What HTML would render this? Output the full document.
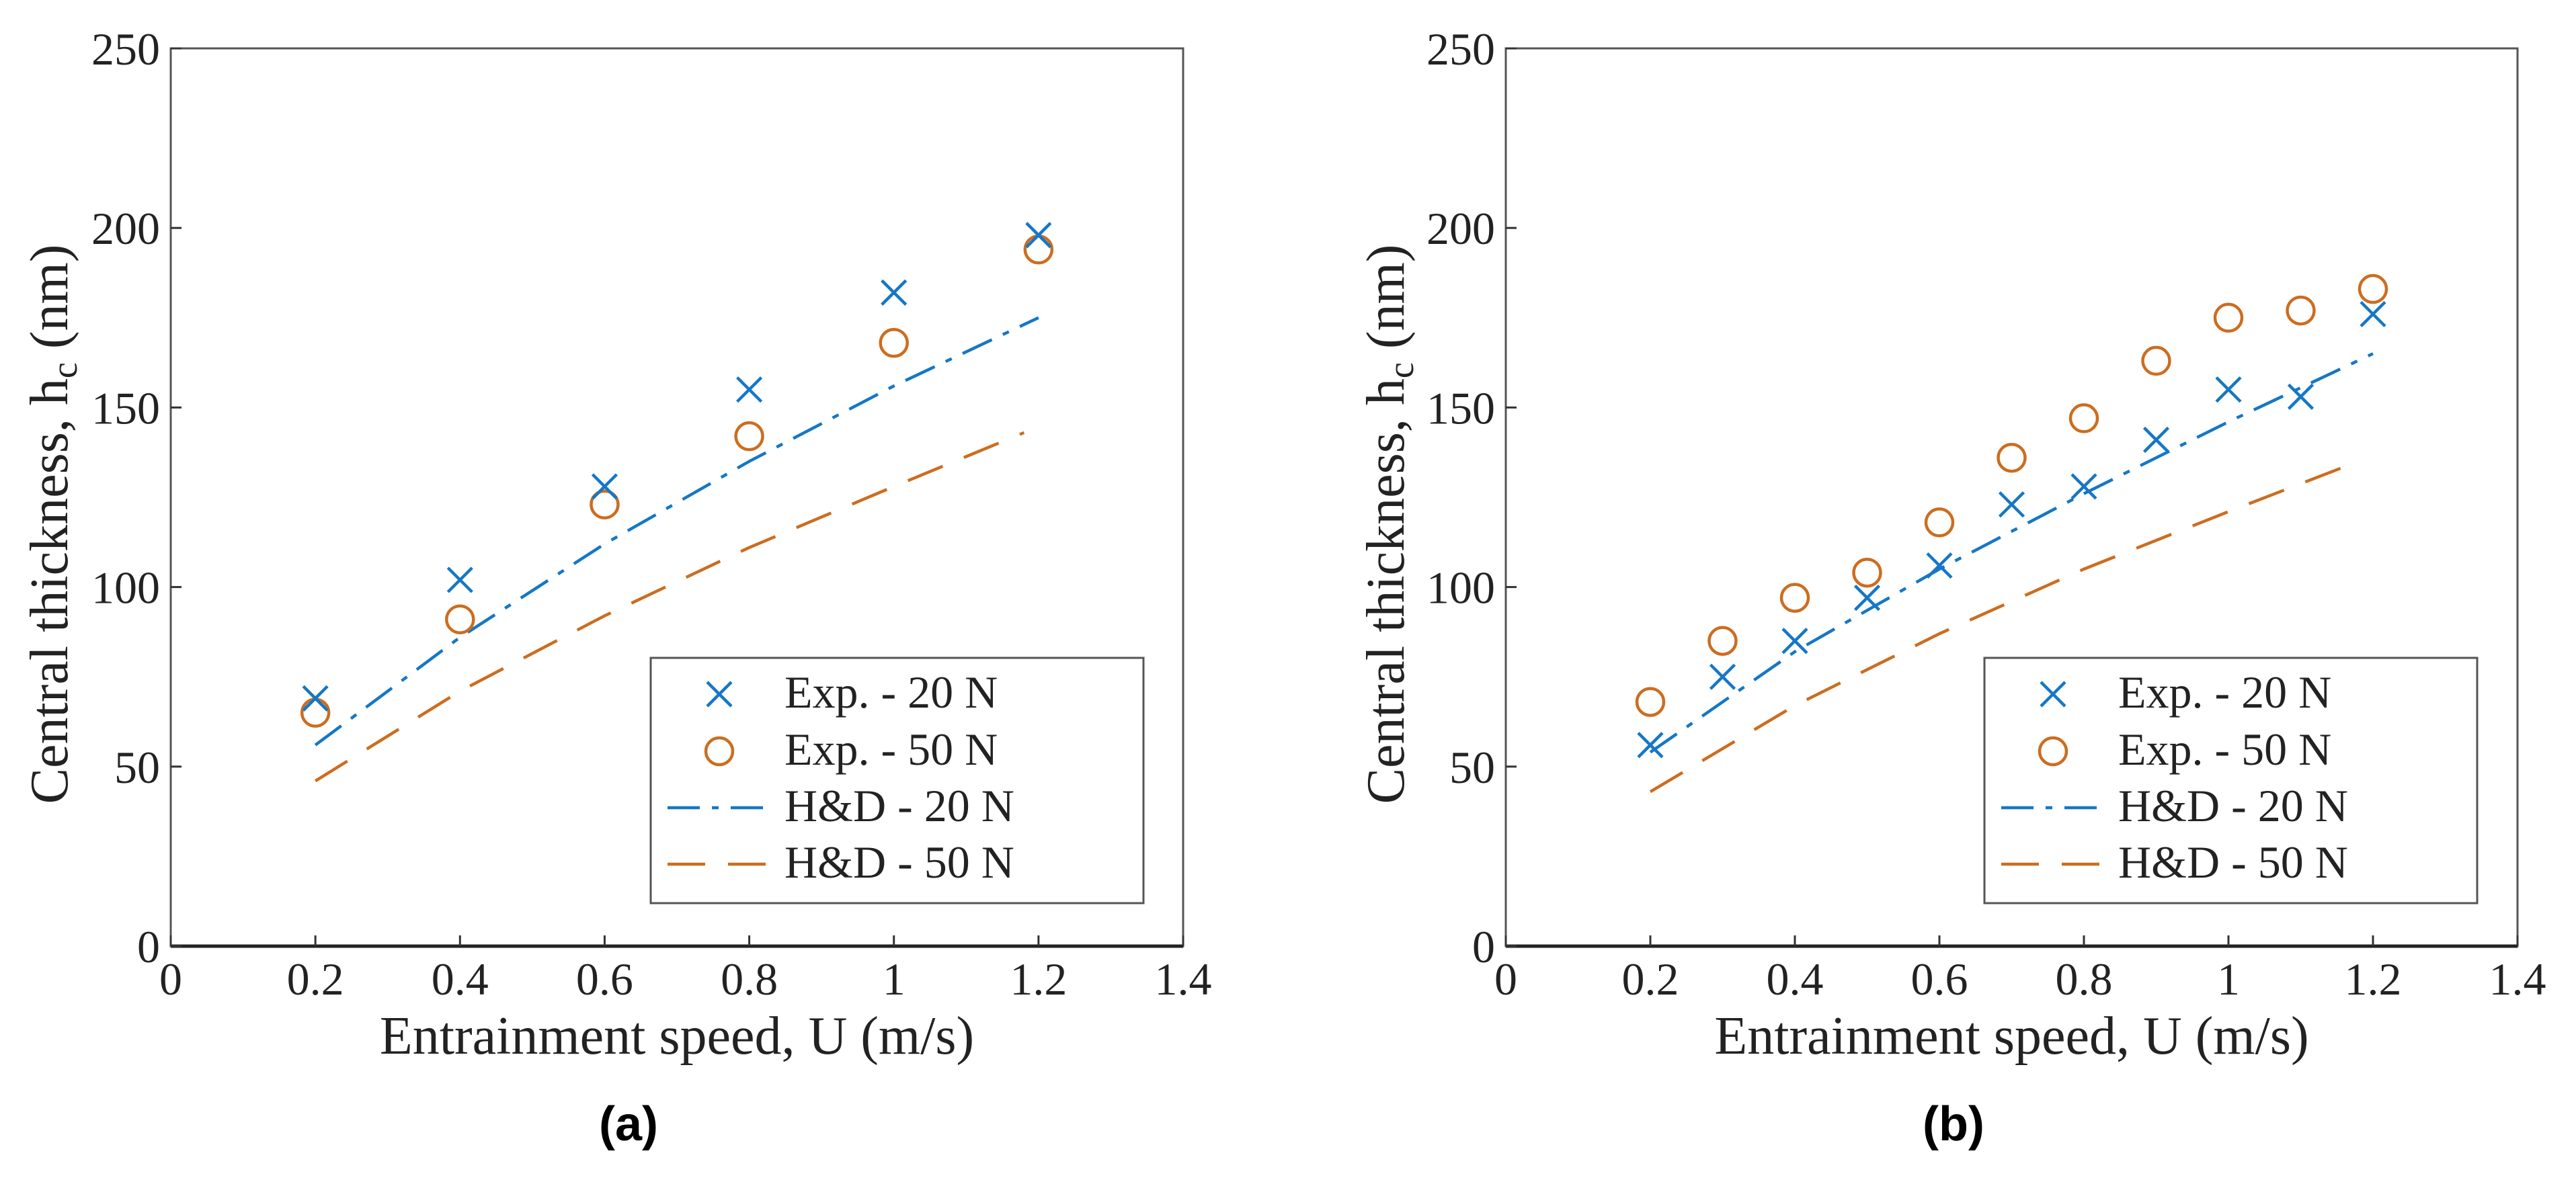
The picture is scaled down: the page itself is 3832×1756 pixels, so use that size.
<!DOCTYPE html>
<html><head><meta charset="utf-8">
<style>
html,body{margin:0;padding:0;background:#fff;}
svg{display:block;}
text{font-family:"Liberation Serif",serif;fill:#222;}
.tick{font-size:68px;}
.lab{font-size:80px;}
.leg{font-size:68px;}
.cap{font-family:"Liberation Sans",sans-serif;font-weight:bold;font-size:72px;fill:#000;}
</style></head>
<body>
<svg id="fig" width="3832" height="1756" viewBox="0 0 3832 1756" xmlns="http://www.w3.org/2000/svg"></svg>
<script>
// ---- data ----
const xTicks = [0, 0.2, 0.4, 0.6, 0.8, 1, 1.2, 1.4];
const xTickLabels = ["0", "0.2", "0.4", "0.6", "0.8", "1", "1.2", "1.4"];
const yTicks = [0, 50, 100, 150, 200, 250];
const yTickLabels = ["0", "50", "100", "150", "200", "250"];

const aSpeeds = [0.2, 0.4, 0.6, 0.8, 1.0, 1.2];
const aExp20 = [69, 102, 128, 155, 182, 198];
const aExp50 = [65, 91, 123, 142, 168, 194];
const aHdSpeeds20 = [0.2, 0.4, 0.6, 0.8, 1.0, 1.2];
const aHd20 = [56, 86, 112, 135, 156, 175];
const aHdSpeeds50 = [0.2, 0.4, 0.6, 0.8, 1.0, 1.18];
const aHd50 = [46, 71, 92, 111, 128, 143];

const bSpeeds = [0.2, 0.3, 0.4, 0.5, 0.6, 0.7, 0.8, 0.9, 1.0, 1.1, 1.2];
const bExp20 = [56, 75, 85, 97, 106, 123, 128, 141, 155, 153, 176];
const bExp50 = [68, 85, 97, 104, 118, 136, 147, 163, 175, 177, 183];
const bHdSpeeds20 = [0.2, 0.4, 0.6, 0.8, 1.0, 1.2];
const bHd20 = [54, 82, 105, 126, 146, 165];
const bHdSpeeds50 = [0.2, 0.4, 0.6, 0.8, 1.0, 1.18];
const bHd50 = [43, 67, 87, 105, 121, 135];

const legendLabels = ["Exp. - 20 N", "Exp. - 50 N", "H&D - 20 N", "H&D - 50 N"];

const BLUE = "#1577C6", ORANGE = "#CC6D20";
const NS = "http://www.w3.org/2000/svg";
const svg = document.getElementById("fig");

function mk(tag, attrs, parent) {
  const e = document.createElementNS(NS, tag);
  for (const k in attrs) e.setAttribute(k, attrs[k]);
  (parent || svg).appendChild(e);
  return e;
}

function panel(id, L, R, T, B, speeds, e20, e50, hs20, h20, hs50, h50, legL, cap, capX, ylabX) {
  const g = mk("g", {});
  
  
  const sx = v => L + (v - 0) / 1.4 * (R - L);
  const sy = v => B - v / 250 * (B - T);

  const frame = mk("rect", {x: L, y: T, width: R - L, height: B - T, fill: "none", stroke: "#555", "stroke-width": 3}, g);
  
  
  const xax = mk("line", {x1: L, y1: B, x2: R, y2: B, stroke: "#222", "stroke-width": 5}, g);
  
  

  xTicks.forEach((t, i) => {
    const x = sx(t);
    const tk = mk("line", {x1: x, y1: B, x2: x, y2: B - 16, stroke: "#333", "stroke-width": 3}, g);
    
    
    const tl = mk("text", {x: x, y: B + 72, "text-anchor": "middle", class: "tick"}, g);
    tl.textContent = xTickLabels[i];
    
    
  });
  yTicks.forEach((t, i) => {
    const y = sy(t);
    const tk = mk("line", {x1: L, y1: y, x2: L + 16, y2: y, stroke: "#333", "stroke-width": 3}, g);
    
    
    const tl = mk("text", {x: L - 16, y: y + 24, "text-anchor": "end", class: "tick"}, g);
    tl.textContent = yTickLabels[i];
    
    
  });

  const xt = mk("text", {x: (L + R) / 2, y: 1568, "text-anchor": "middle", class: "lab"}, g);
  xt.textContent = "Entrainment speed, U (m/s)";
  
  
  const yt = mk("text", {x: 0, y: 0, "text-anchor": "middle", class: "lab", transform: `translate(${ylabX},${(T + B) / 2 + 40}) rotate(-90)`}, g);
  yt.innerHTML = 'Central thickness, h<tspan font-size="54" dy="14">c</tspan><tspan dy="-14"> (nm)</tspan>';
  
  

  // model lines
  const p20 = mk("polyline", {points: hs20.map((s, i) => sx(s) + "," + sy(h20[i])).join(" "), fill: "none", stroke: BLUE, "stroke-width": 4.5, "stroke-dasharray": "48 18 10 18"}, g);
  
  
  const p50 = mk("polyline", {points: hs50.map((s, i) => sx(s) + "," + sy(h50[i])).join(" "), fill: "none", stroke: ORANGE, "stroke-width": 4.5, "stroke-dasharray": "56 34"}, g);
  
  

  // markers
  speeds.forEach((s, i) => {
    const cx = sx(s), cy = sy(e50[i]);
    const c = mk("circle", {cx: cx, cy: cy, r: 20, fill: "none", stroke: ORANGE, "stroke-width": 4.5}, g);
    
    
  });
  speeds.forEach((s, i) => {
    const cx = sx(s), cy = sy(e20[i]);
    const m = mk("path", {d: `M${cx - 18},${cy - 18}L${cx + 18},${cy + 18}M${cx - 18},${cy + 18}L${cx + 18},${cy - 18}`, stroke: BLUE, "stroke-width": 4.5, fill: "none"}, g);
    
    
  });

  // legend
  const lg = mk("g", {}, g);
  
  
  const box = mk("rect", {x: legL, y: 979, width: 733, height: 365, fill: "#fff", stroke: "#555", "stroke-width": 3}, lg);
  
  
  const mx = legL + 102, tx = legL + 199;
  const rows = [1033, 1118, 1202, 1286];
  const lx = mk("path", {d: `M${mx - 18},${rows[0] - 18}L${mx + 18},${rows[0] + 18}M${mx - 18},${rows[0] + 18}L${mx + 18},${rows[0] - 18}`, stroke: BLUE, "stroke-width": 4.5, fill: "none"}, lg);
  
  
  const lc = mk("circle", {cx: mx, cy: rows[1], r: 20, fill: "none", stroke: ORANGE, "stroke-width": 4.5}, lg);
  
  
  const l3 = mk("line", {x1: legL + 25, y1: rows[2], x2: legL + 167, y2: rows[2], stroke: BLUE, "stroke-width": 4.5, "stroke-dasharray": "48 18 10 18"}, lg);
  
  
  const l4 = mk("line", {x1: legL + 25, y1: rows[3], x2: legL + 171, y2: rows[3], stroke: ORANGE, "stroke-width": 4.5, "stroke-dasharray": "56 34"}, lg);
  
  
  legendLabels.forEach((t, i) => {
    const te = mk("text", {x: tx, y: rows[i] + 20, class: "leg"}, lg);
    te.textContent = t;
    
    
  });

  const cp = mk("text", {x: capX, y: 1697, "text-anchor": "middle", class: "cap"}, g);
  cp.textContent = cap;
  
  
}

panel("a", 254, 1760, 72, 1408, aSpeeds, aExp20, aExp50, aHdSpeeds20, aHd20, aHdSpeeds50, aHd50, 968, "(a)", 935, 100);
panel("b", 2240, 3745, 72, 1408, bSpeeds, bExp20, bExp50, bHdSpeeds20, bHd20, bHdSpeeds50, bHd50, 2952, "(b)", 2906, 2088);
</script>
</body></html>
